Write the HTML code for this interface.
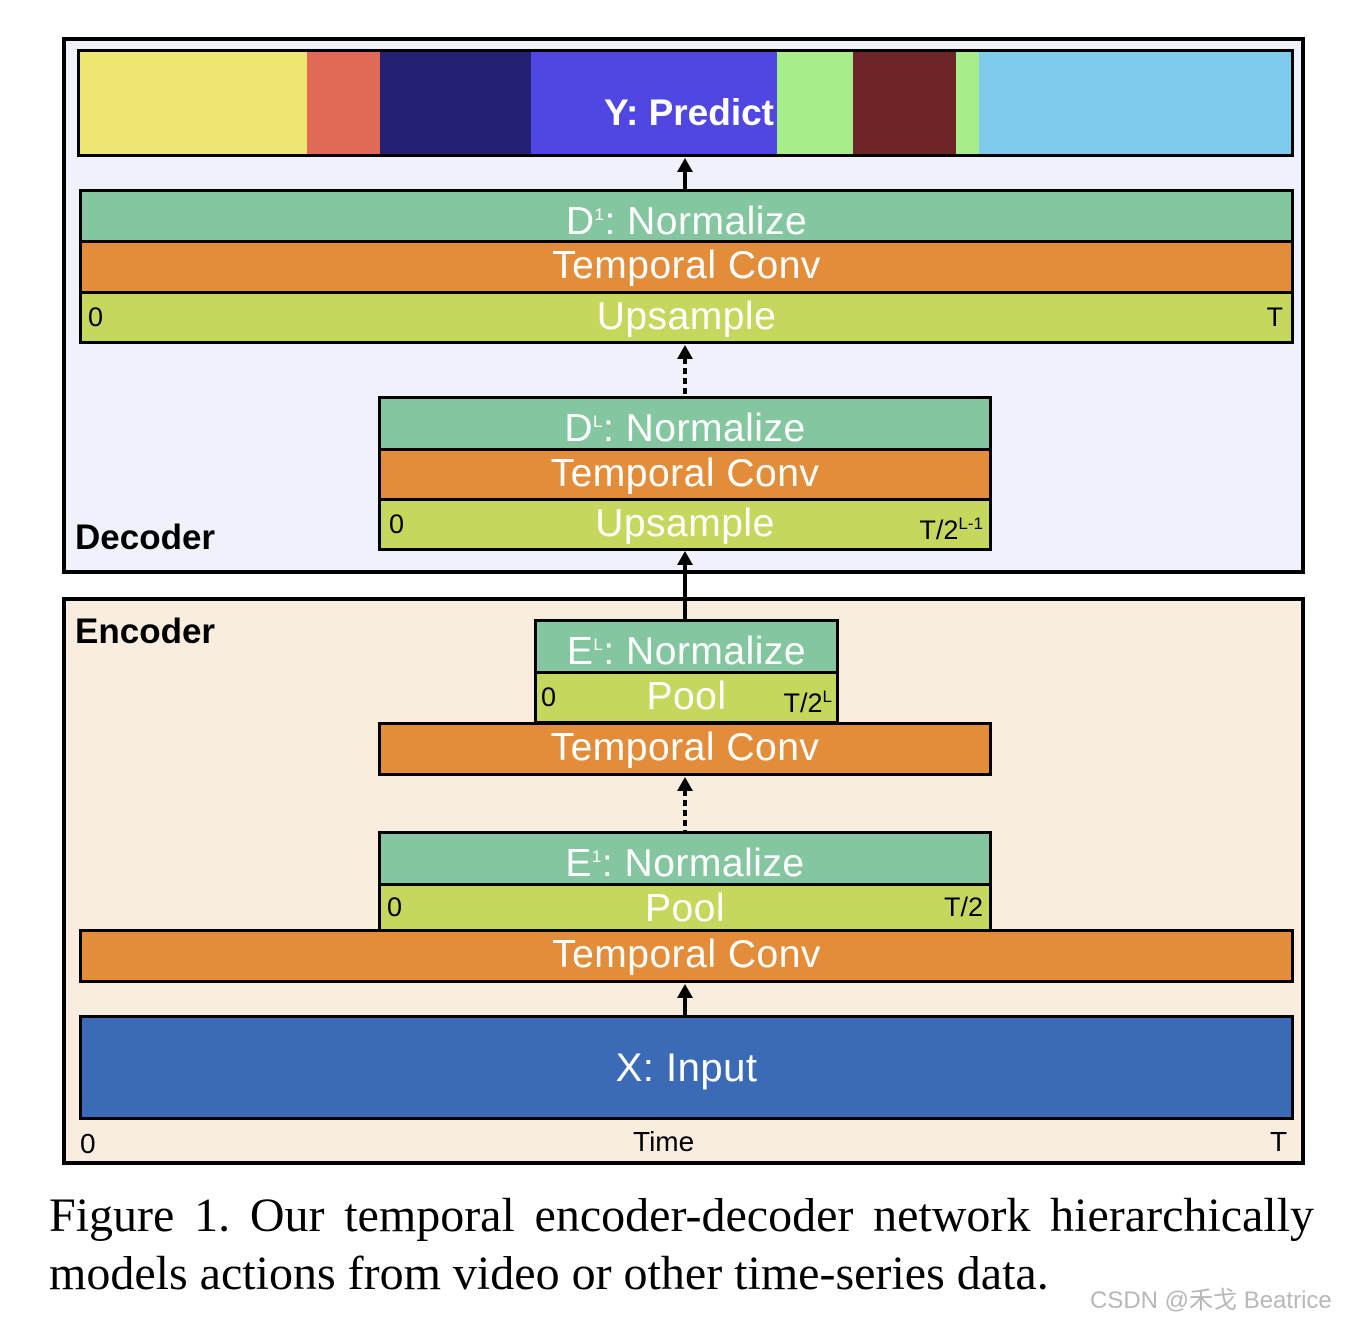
<!DOCTYPE html>
<html><head><meta charset="utf-8"><style>
body{margin:0;width:1354px;height:1320px;background:#fff;position:relative;overflow:hidden;font-family:"Liberation Sans",sans-serif}
div{position:absolute;box-sizing:border-box}
.b{border:3px solid #000}
.n{background:#84c69f}.o{background:#e38d3b}.g{background:#c5d75c}
.t{color:#fff;font-size:39px;text-align:center;line-height:46px;letter-spacing:0.5px}
.s{color:#000;font-size:27px;position:absolute;top:8px;line-height:30px;letter-spacing:0}
sup{font-size:17px}
.v{width:4px;background:#000;left:683px}
.dv{width:4px;left:683px;background:repeating-linear-gradient(#000 0 6px,transparent 6px 10px)}
.ah{width:0;height:0;border-left:8px solid transparent;border-right:8px solid transparent;border-bottom:14px solid #000;left:677px}
.cap{left:49px;width:1265px;font-family:'Liberation Serif',serif;font-size:48px;line-height:58px;color:#000;white-space:nowrap}
</style></head><body>
<div style="left:62px;top:37px;width:1243px;height:537px;border:4px solid #000;background:#eff2fb"></div>
<div style="left:62px;top:597px;width:1243px;height:568px;border:4px solid #000;background:#f9ede0"></div>

<div class="b" style="left:77px;top:49px;width:1217px;height:108px;overflow:hidden;background:#7ecbee">
<div style="left:0;top:0;width:227px;height:102px;background:#efe573"></div>
<div style="left:227px;top:0;width:73px;height:102px;background:#e06a55"></div>
<div style="left:300px;top:0;width:151px;height:102px;background:#231f73"></div>
<div style="left:451px;top:0;width:246px;height:102px;background:#5047e3"></div>
<div style="left:697px;top:0;width:76px;height:102px;background:#a5ee8a"></div>
<div style="left:773px;top:0;width:103px;height:102px;background:#6f2527"></div>
<div style="left:876px;top:0;width:23px;height:102px;background:#a5ee8a"></div>
<div class="t" style="left:500px;top:38px;width:194px;font-weight:bold;font-size:37px;letter-spacing:0;white-space:nowrap;text-align:right">Y: Predict</div>
</div>

<div class="b n t" style="left:79px;top:189px;width:1215px;height:54px">D<sup>1</sup>: Normalize</div>
<div class="b o t" style="left:79px;top:240px;width:1215px;height:54px">Temporal Conv</div>
<div class="b g t" style="left:79px;top:291px;width:1215px;height:53px">Upsample<span class="s" style="left:6px">0</span><span class="s" style="right:8px">T</span></div>

<div class="b n t" style="left:378px;top:396px;width:614px;height:55px">D<sup>L</sup>: Normalize</div>
<div class="b o t" style="left:378px;top:448px;width:614px;height:53px">Temporal Conv</div>
<div class="b g t" style="left:378px;top:498px;width:614px;height:53px">Upsample<span class="s" style="left:8px">0</span><span class="s" style="right:6px">T/2<sup>L-1</sup></span></div>
<div style="left:75px;top:518px;font-size:35px;font-weight:bold">Decoder</div>

<div style="left:75px;top:612px;font-size:35px;font-weight:bold">Encoder</div>
<div class="b n t" style="left:534px;top:619px;width:305px;height:55px">E<sup>L</sup>: Normalize</div>
<div class="b g t" style="left:534px;top:671px;width:305px;height:53px">Pool<span class="s" style="left:4px">0</span><span class="s" style="right:4px">T/2<sup>L</sup></span></div>
<div class="b o t" style="left:378px;top:722px;width:614px;height:54px">Temporal Conv</div>
<div class="b n t" style="left:378px;top:831px;width:614px;height:55px">E<sup>1</sup>: Normalize</div>
<div class="b g t" style="left:378px;top:883px;width:614px;height:49px">Pool<span class="s" style="left:6px;top:6px">0</span><span class="s" style="right:6px;top:6px">T/2</span></div>
<div class="b o t" style="left:79px;top:929px;width:1215px;height:54px">Temporal Conv</div>
<div class="b t" style="left:79px;top:1015px;width:1215px;height:105px;background:#3b6ab6;line-height:100px;font-size:40px">X: Input</div>
<div style="left:80px;top:1128px;font-size:28px;color:#000">0</div>
<div style="left:633px;top:1126px;font-size:28px;color:#000">Time</div>
<div style="left:1270px;top:1126px;font-size:28px;color:#000">T</div>

<div class="v" style="top:170px;height:20px"></div><div class="ah" style="top:158px"></div>
<div class="dv" style="top:358px;height:38px"></div><div class="ah" style="top:345px"></div>
<div class="v" style="top:563px;height:57px"></div><div class="ah" style="top:551px"></div>
<div class="dv" style="top:790px;height:41px"></div><div class="ah" style="top:777px"></div>
<div class="v" style="top:996px;height:20px"></div><div class="ah" style="top:984px"></div>

<div class="cap" style="top:1187px;text-align:justify;text-align-last:justify;white-space:normal">Figure 1. Our temporal encoder-decoder network hierarchically</div>
<div class="cap" style="top:1245px">models actions from video or other time-series data.</div>
<div style="left:1090px;top:1280px;font-size:24px;color:#b8b8b8;font-family:'Liberation Sans','Noto Sans CJK SC',sans-serif">CSDN @禾戈 Beatrice</div>
</body></html>
